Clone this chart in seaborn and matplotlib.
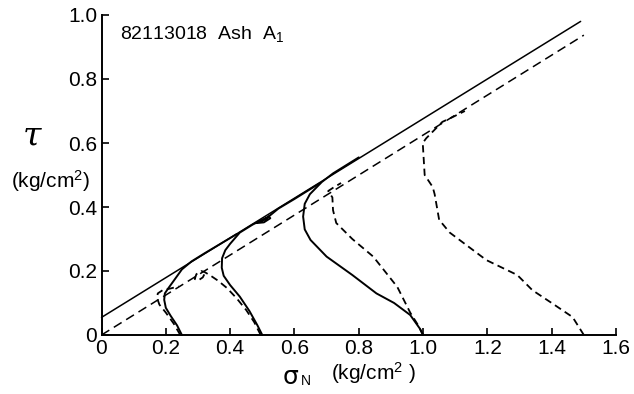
import numpy as np
import pandas as pd
import matplotlib
matplotlib.use('Agg')
import matplotlib.pyplot as plt
import seaborn as sns

# failure envelopes (end points)
env_solid_sigma = [0.0, 1.49]
env_solid_tau = [0.055, 0.98]
env_dash_sigma = [0.0, 1.50]
env_dash_tau = [0.0, 0.937]

# stress paths, solid
a_sigma = [0.25, 0.235, 0.215, 0.20, 0.195, 0.197, 0.207, 0.225, 0.25, 0.28, 0.32, 0.37, 0.42]
a_tau = [0.0, 0.03, 0.06, 0.085, 0.11, 0.13, 0.145, 0.17, 0.205, 0.23, 0.255, 0.285, 0.315]

b_sigma = [0.5, 0.485, 0.46, 0.43, 0.40, 0.38, 0.374, 0.375, 0.385, 0.40, 0.43, 0.47, 0.52,
           0.525, 0.505, 0.485, 0.51, 0.55, 0.60, 0.64, 0.68]
b_tau = [0.0, 0.03, 0.075, 0.12, 0.156, 0.185, 0.21, 0.24, 0.265, 0.285, 0.32, 0.345, 0.37,
         0.365, 0.352, 0.35, 0.362, 0.395, 0.425, 0.45, 0.475]

c_sigma = [1.0, 0.99, 0.96, 0.91, 0.855, 0.78, 0.70, 0.65, 0.632, 0.627, 0.632, 0.648,
           0.685, 0.72, 0.76, 0.80]
c_tau = [0.0, 0.02, 0.0625, 0.1, 0.13, 0.1875, 0.245, 0.297, 0.33, 0.37, 0.41, 0.44,
         0.478, 0.505, 0.53, 0.555]

# stress paths, dashed
g_sigma = [0.245, 0.225, 0.20, 0.18, 0.173, 0.175, 0.19, 0.213, 0.24]
g_tau = [0.0, 0.035, 0.07, 0.095, 0.115, 0.13, 0.14, 0.145, 0.152]

f_sigma = [0.495, 0.475, 0.45, 0.42, 0.39, 0.362, 0.337, 0.32, 0.31, 0.295, 0.29, 0.30, 0.315, 0.325]
f_tau = [0.0, 0.04, 0.078, 0.115, 0.147, 0.17, 0.187, 0.197, 0.2, 0.19, 0.175, 0.17, 0.18, 0.2]

d_sigma = [1.0, 0.985, 0.96, 0.92, 0.845, 0.78, 0.73, 0.72, 0.718, 0.705, 0.72, 0.745]
d_tau = [0.0, 0.03, 0.07, 0.15, 0.245, 0.30, 0.35, 0.39, 0.43, 0.45, 0.46, 0.475]

e_sigma = [1.5, 1.465, 1.40, 1.34, 1.293, 1.197, 1.083, 1.05, 1.036, 1.03, 1.005, 0.999,
           1.01, 1.06, 1.09, 1.13]
e_tau = [0.0, 0.056, 0.1, 0.14, 0.1875, 0.234, 0.32, 0.36, 0.44, 0.4625, 0.5, 0.6,
         0.615, 0.666, 0.68, 0.70]

x_ticks = [0, 0.2, 0.4, 0.6, 0.8, 1.0, 1.2, 1.4, 1.6]
x_labels = ['0', '0.2', '0.4', '0.6', '0.8', '1.0', '1.2', '1.4', '1.6']
y_ticks = [0, 0.2, 0.4, 0.6, 0.8, 1.0]
y_labels = ['0', '0.2', '0.4', '0.6', '0.8', '1.0']

sns.set_style('ticks')
plt.rcParams['font.family'] = ['Liberation Sans', 'DejaVu Sans']
plt.rcParams['text.color'] = 'black'
plt.rcParams['mathtext.fontset'] = 'custom'
plt.rcParams['mathtext.rm'] = 'Liberation Sans'
plt.rcParams['mathtext.it'] = 'Liberation Sans'

W, H = 634, 394
fig = plt.figure(figsize=(W / 100, H / 100), dpi=100)
ax = fig.add_axes([101.5 / W, 1 - 335 / H, (616 - 101.5) / W, (335 - 15) / H])

def draw(sig, tau, dashed, dash=(5, 3), lw=1.2):
    d = pd.DataFrame({'sigma': sig, 'tau': tau})
    sns.lineplot(data=d, x='sigma', y='tau', sort=False, estimator=None,
                 color='black', lw=lw, ax=ax)
    l = ax.lines[-1]
    l.set_clip_on(False)
    if dashed:
        l.set_dashes(dash)

draw(env_solid_sigma, env_solid_tau, False, lw=1.1)
draw(env_dash_sigma, env_dash_tau, True, dash=(6, 3.5), lw=1.1)
for s, t in [(a_sigma, a_tau), (b_sigma, b_tau), (c_sigma, c_tau)]:
    draw(s, t, False, lw=1.4)
for s, t in [(g_sigma, g_tau), (f_sigma, f_tau), (d_sigma, d_tau), (e_sigma, e_tau)]:
    draw(s, t, True, dash=(4, 2.5), lw=1.3)

ax.set_xlim(0, 1.6)
ax.set_ylim(0, 1.0)
ax.set_xticks(x_ticks)
ax.set_xticklabels(x_labels)
ax.set_yticks(y_ticks)
ax.set_yticklabels(y_labels)
ax.set_xlabel('')
ax.set_ylabel('')
sns.despine(ax=ax)
for sp in ['left', 'bottom']:
    ax.spines[sp].set_linewidth(1.4)
    ax.spines[sp].set_color('black')
ax.tick_params(direction='in', length=5, width=1.2, labelsize=15, colors='black', pad=3)

ax.text(0.036, 0.94, r'82113018  Ash  A$_\mathregular{1}$', transform=ax.transAxes,
        fontsize=14, va='center', ha='left', color='black')

fig.text(32 / W, 1 - 137 / H, 'τ', fontsize=24, family=['DejaVu Serif'], style='italic',
         ha='center', va='center')
fig.text(51 / W, 1 - 181 / H, r'(kg/cm$^\mathregular{2}$)', fontsize=15, ha='center', va='center')

fig.text(291 / W, 1 - 377 / H, 'σ', fontsize=18, family=['DejaVu Sans'], ha='center', va='center')
fig.text(306 / W, 1 - 381 / H, 'N', fontsize=10, ha='center', va='center')
fig.text(373 / W, 1 - 373 / H, r'(kg/cm$^\mathregular{2}$ )', fontsize=15, ha='center', va='center')

fig.savefig('out.png', dpi=100, facecolor='white')
